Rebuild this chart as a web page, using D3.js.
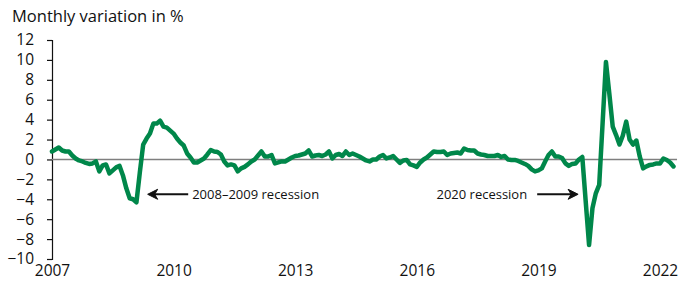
<!DOCTYPE html>
<html>
<head>
<meta charset="utf-8">
<script src="https://cdn.jsdelivr.net/npm/d3@7"></script>
<style>
  html, body { margin: 0; padding: 0; background: #fff; }
  svg text { font-family: "Open Sans", "Noto Sans", sans-serif; fill: #111; }
</style>
</head>
<body>
<div id="chart"></div>
<script>
// Monthly variation in %, starting January 2007
const startYear = 2007;
const values = [
  0.8, 1.0, 1.2, 0.9, 0.8, 0.8, 0.4, 0.1, -0.1, -0.2, -0.35, -0.45,
  -0.4, -0.2, -1.2, -0.6, -0.5, -1.4, -1.1, -0.8, -0.65, -1.6, -2.9, -3.9,
  -4.0, -4.3, -1.3, 1.5, 2.1, 2.6, 3.6, 3.6, 3.9, 3.3, 3.2, 2.9,
  2.6, 2.1, 1.7, 1.4, 0.6, 0.2, -0.3, -0.3, -0.1, 0.1, 0.5, 0.95,
  0.8, 0.75, 0.5, -0.2, -0.6, -0.5, -0.6, -1.2, -0.9, -0.75, -0.5, -0.2,
  0.0, 0.4, 0.8, 0.3, 0.3, 0.45, -0.4, -0.3, -0.2, -0.2, 0.0, 0.2,
  0.35, 0.4, 0.5, 0.6, 0.9, 0.3, 0.4, 0.45, 0.35, 0.5, 0.8, 0.1,
  0.45, 0.55, 0.35, 0.8, 0.45, 0.6, 0.45, 0.3, 0.1, -0.1, -0.2, 0.0,
  0.0, 0.3, 0.45, 0.1, 0.2, 0.35, 0.0, -0.35, -0.1, -0.05, -0.5, -0.6,
  -0.75, -0.3, 0.0, 0.2, 0.5, 0.8, 0.75, 0.75, 0.8, 0.45, 0.6, 0.65,
  0.7, 0.6, 1.1, 0.95, 0.9, 0.9, 0.6, 0.5, 0.45, 0.35, 0.35, 0.35,
  0.45, 0.25, 0.35, 0.0, -0.05, -0.05, -0.15, -0.3, -0.45, -0.65, -1.0, -1.2,
  -1.1, -0.9, -0.2, 0.45, 0.8, 0.3, 0.3, 0.15, -0.4, -0.65, -0.45, -0.4,
  0.0, 0.25, -4.2, -8.6, -4.9, -3.4, -2.55, 3.6, 9.8, 6.6, 3.3, 2.45,
  1.5, 2.4, 3.8, 2.0, 1.5, 1.9, 0.3, -0.9, -0.7, -0.55, -0.5, -0.4,
  -0.4, 0.1, -0.05, -0.3, -0.7
];

const yTicks = [-10, -8, -6, -4, -2, 0, 2, 4, 6, 8, 10, 12];
const xTicks = [2007, 2010, 2013, 2016, 2019, 2022];

// annotation: label, arrow tail/tip (years), value level
const notes = [
  { label: "2008\u20132009 recession", from: 2010.36, to: 2009.36, at: -3.5, side: "right" },
  { label: "2020 recession", from: 2018.97, to: 2019.98, at: -3.5, side: "left" }
];

const width = 692, height = 283;
const font = '"Open Sans", "Noto Sans", sans-serif';

const svg = d3.select("#chart").append("svg")
    .attr("width", width)
    .attr("height", height);

const x = d3.scaleLinear().domain([2007, 2022]).range([52, 660]);
const y = d3.scaleLinear().domain([-10, 12]).range([259, 40]);

const data = values.map((v, i) => ({ t: startYear + i / 12, v: v }));

// Title
svg.append("text")
    .attr("x", 12)
    .attr("y", 22)
    .style("font-size", "16.5px")
    .text("Monthly variation in %");

// y axis
const yAxis = d3.axisLeft(y).tickValues(yTicks).tickSize(5).tickPadding(13);
const gy = svg.append("g")
    .attr("transform", `translate(${x(2007)},0)`)
    .call(yAxis);
gy.select(".domain").attr("stroke", "#111").attr("stroke-width", 1.2);
gy.selectAll(".tick line").attr("stroke", "#111").attr("stroke-width", 1.2);
gy.selectAll(".tick text")
    .style("font-size", "15.5px")
    .style("font-family", font)
    .attr("fill", "#111");

// x axis labels only
const xAxis = d3.axisBottom(x).tickValues(xTicks).tickFormat(d3.format("d")).tickSize(0).tickPadding(6);
const gx = svg.append("g")
    .attr("transform", `translate(0,${y(-10)})`)
    .call(xAxis);
gx.select(".domain").remove();
gx.selectAll(".tick text")
    .style("font-size", "15.5px")
    .style("font-family", font)
    .attr("fill", "#111");

// zero line
svg.append("line")
    .attr("x1", x(2007)).attr("x2", x(2022.42))
    .attr("y1", y(0)).attr("y2", y(0))
    .attr("stroke", "#7f7f7f")
    .attr("stroke-width", 1.5);

// the series
const line = d3.line().x(d => x(d.t)).y(d => y(d.v));
svg.append("path")
    .datum(data)
    .attr("fill", "none")
    .attr("stroke", "#00874a")
    .attr("stroke-width", 4.5)
    .attr("stroke-linejoin", "round")
    .attr("stroke-linecap", "round")
    .attr("d", line);

// annotations
notes.forEach(n => {
    const x0 = x(n.from), x1 = x(n.to), yy = y(n.at);
    const dir = x1 > x0 ? 1 : -1;
    svg.append("line")
        .attr("x1", x0).attr("x2", x1 - dir * 6)
        .attr("y1", yy).attr("y2", yy)
        .attr("stroke", "#111")
        .attr("stroke-width", 2);
    svg.append("path")
        .attr("d", `M${x1},${yy} L${x1 - dir * 10},${yy - 5} L${x1 - dir * 7},${yy} L${x1 - dir * 10},${yy + 5} Z`)
        .attr("fill", "#111")
        .attr("stroke", "#111")
        .attr("stroke-width", 1)
        .attr("stroke-linejoin", "round");
    svg.append("text")
        .attr("x", n.side === "right" ? x0 + 4 : x0 - 10)
        .attr("y", yy + 4.5)
        .attr("text-anchor", n.side === "right" ? "start" : "end")
        .style("font-size", "13px")
        .text(n.label);
});
</script>
</body>
</html>
